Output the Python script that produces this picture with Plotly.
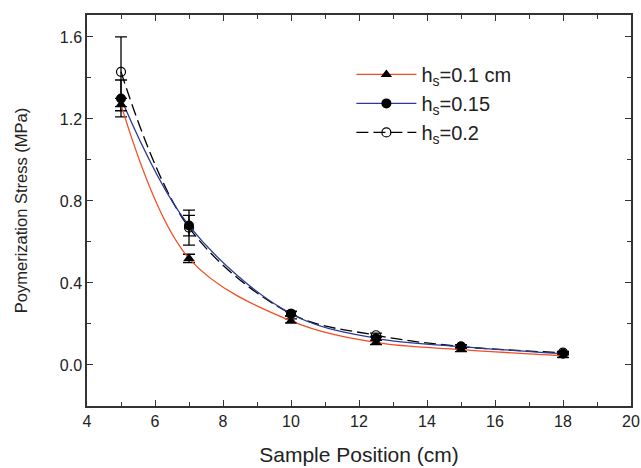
import plotly.graph_objects as go

positions = [5, 7, 10, 12.5, 15, 18]

stress_01 = [1.27, 0.52, 0.215, 0.11, 0.075, 0.045]
err_01 = [0.03, 0.02, 0.01, 0.01, 0.01, 0.008]

stress_015 = [1.30, 0.68, 0.25, 0.13, 0.09, 0.055]
err_015 = [0.09, 0.05, 0.01, 0.01, 0.008, 0.006]

stress_02 = [1.43, 0.67, 0.25, 0.145, 0.09, 0.06]
err_02 = [0.17, 0.085, 0.012, 0.01, 0.008, 0.006]

x_ticks = [4, 6, 8, 10, 12, 14, 16, 18, 20]
y_ticks = [0.0, 0.4, 0.8, 1.2, 1.6]

font = "Liberation Sans, Arial, sans-serif"

fig = go.Figure()

fig.add_trace(go.Scatter(
    x=positions, y=stress_02, mode="lines+markers",
    name="h<sub>s</sub>=0.2",
    line=dict(color="black", width=1.3, dash="12px,5px", shape="spline", smoothing=1.0),
    marker=dict(symbol="circle-open", size=9, color="black", line=dict(width=1.2)),
    error_y=dict(type="data", array=err_02, color="black", thickness=1.3, width=6),
))
fig.add_trace(go.Scatter(
    x=positions, y=stress_015, mode="lines+markers",
    name="h<sub>s</sub>=0.15",
    line=dict(color="#2B3A97", width=1.3, shape="spline", smoothing=1.0),
    marker=dict(symbol="circle", size=10, color="black"),
    error_y=dict(type="data", array=err_015, color="black", thickness=1.3, width=6),
))
fig.add_trace(go.Scatter(
    x=positions, y=stress_01, mode="lines+markers",
    name="h<sub>s</sub>=0.1 cm",
    line=dict(color="#F04E23", width=1.3, shape="spline", smoothing=1.0),
    marker=dict(symbol="triangle-up", size=10, color="black"),
    error_y=dict(type="data", array=err_01, color="black", thickness=1.3, width=6),
))

axis_common = dict(
    showgrid=False, zeroline=False, showline=True, linecolor="#333333", linewidth=1.5,
    mirror="allticks", ticks="inside", ticklen=6, tickwidth=1.2, tickcolor="#333333",
    tickfont=dict(family=font, size=16, color="#222222"), automargin=False,
)

fig.update_xaxes(
    range=[4, 20], tickvals=x_ticks,
    minor=dict(ticks="inside", ticklen=4, dtick=1, tickcolor="#333333", tickwidth=1),
    title=dict(text="Sample Position (cm)", font=dict(family=font, size=21, color="#222222"), standoff=18),
    **axis_common,
)
fig.update_yaxes(
    range=[-0.2, 1.707], tickvals=y_ticks, tickformat=".1f",
    minor=dict(ticks="inside", ticklen=4, dtick=0.2, tick0=0, tickcolor="#333333", tickwidth=1),
    title=dict(text="Poymerization Stress (MPa)", font=dict(family=font, size=16.5, color="#222222"), standoff=28),
    **axis_common,
)

fig.update_layout(
    width=641, height=468,
    margin=dict(l=87, r=10, t=15, b=62),
    plot_bgcolor="white", paper_bgcolor="white",
    font=dict(family=font, size=16, color="#222222"),
    legend=dict(
        x=0.486, y=0.898, xanchor="left", yanchor="top",
        traceorder="reversed", bgcolor="rgba(0,0,0,0)",
        font=dict(family=font, size=20, color="#222222"),
        itemwidth=60, tracegroupgap=4,
    ),
    showlegend=True,
)

fig.write_html(
    "out.html",
    config={"displayModeBar": False},
    post_script="document.body.style.margin='0';document.documentElement.style.overflow='hidden';",
)
